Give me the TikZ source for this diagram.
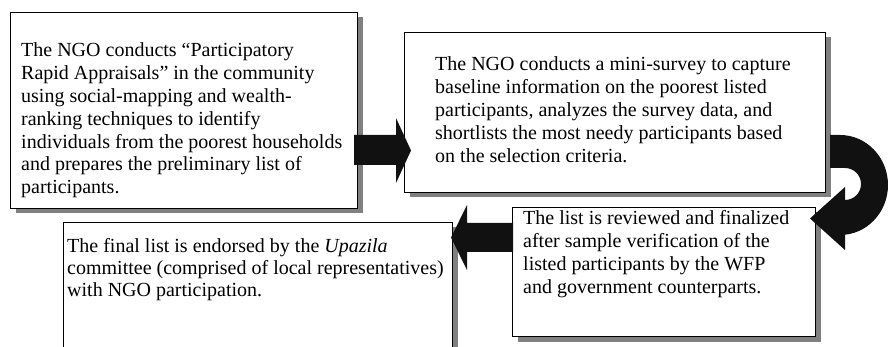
\documentclass[tikz,border=0pt]{standalone}
\usepackage{fontspec}
\setmainfont{Liberation Serif}
\usetikzlibrary{shadows}
\definecolor{shadowgray}{HTML}{808080}
\definecolor{arrowblack}{HTML}{111111}
\tikzset{
  box/.style={draw=black, line width=1pt, fill=white, anchor=north west, inner sep=0pt,
    drop shadow={shadow xshift=5pt, shadow yshift=-5pt, fill=shadowgray, opacity=1}},
  boxtext/.style={anchor=base west, inner sep=0pt},
  blockarrow/.style={fill=arrowblack, draw=none}
}
\newcommand{\btxt}[2]{\parbox[t]{420pt}{\fontsize{20}{#1}\selectfont #2}}
\begin{document}
\begin{tikzpicture}[x=1pt,y=-1pt]
\useasboundingbox[fill=white] (0,0) rectangle (888,347);
% boxes
\node[box, minimum width=347pt, minimum height=196pt] (b1) at (10,12) {};
\node[box, minimum width=421pt, minimum height=160pt] (b2) at (404,32) {};
\node[box, minimum width=303pt, minimum height=129pt] (b3) at (512,207) {};
\node[box, minimum width=389pt, minimum height=150pt] (b4) at (63,222) {};
% texts
\node[boxtext] (t1) at (21,57) {\btxt{22.8pt}{The NGO conducts “Participatory\\
Rapid Appraisals” in the community\\
using social-mapping and wealth-\\
ranking techniques to identify\\
individuals from the poorest households\\
and prepares the preliminary list of\\
participants.}};
\node[boxtext] (t2) at (435,71) {\btxt{22.8pt}{The NGO conducts a mini-survey to capture\\
baseline information on the poorest listed\\
participants, analyzes the survey data, and\\
shortlists the most needy participants based\\
on the selection criteria.}};
\node[boxtext] (t3) at (523,225) {\btxt{22.8pt}{The list is reviewed and finalized\\
after sample verification of the\\
listed participants by the WFP\\
and government counterparts.}};
\node[boxtext] (t4) at (67,252) {\btxt{22pt}{The final list is endorsed by the \textit{Upazila}\\
committee (comprised of local representatives)\\
with NGO participation.}};
% block arrows
\fill[blockarrow] (354,135) -- (396,135) -- (396,118) -- (411,150.5) -- (396,183) -- (396,165) -- (354,165) -- cycle;
\fill[blockarrow] (513,223) -- (467,223) -- (467,205) -- (451,237.5) -- (467,270) -- (467,252) -- (513,252) -- cycle;
\fill[blockarrow] (830,135) -- (840,135) arc[start angle=90, end angle=-90, x radius=48pt, y radius=50pt]
  -- (845,235) -- (845,250) -- (810,218.5) -- (845,187) -- (845,200)
  arc[start angle=-90, end angle=90, radius=16pt] -- (830,168) -- cycle;
\end{tikzpicture}
\end{document}
